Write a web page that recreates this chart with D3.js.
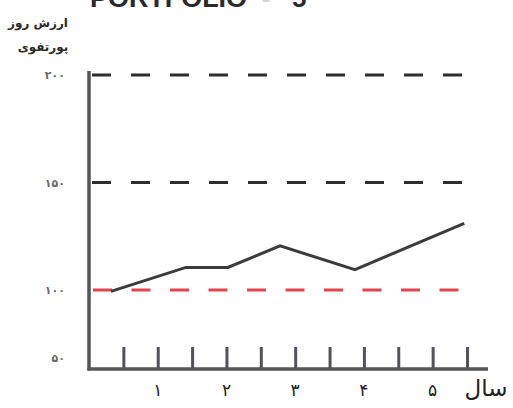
<!DOCTYPE html>
<html>
<head>
<meta charset="utf-8">
<script src="https://cdn.jsdelivr.net/npm/d3@7"></script>
<style>
html,body{margin:0;padding:0;background:#fff;}
svg{display:block;}
</style>
</head>
<body>
<svg id="chart" width="513" height="408"></svg>
<script>
// ---- data ----
const years = [0.32, 1.41, 2.02, 2.78, 3.87, 5.46];
const values = [99, 110.5, 110.5, 120.5, 109.5, 131];
const yTickValues = [50, 100, 150, 200];
const yTickLabels = ["۵۰", "۱۰۰", "۱۵۰", "۲۰۰"];
const xTickValues = [0.5, 1, 1.5, 2, 2.5, 3, 3.5, 4, 4.5, 5, 5.5];
const xLabelValues = [1, 2, 3, 4, 5];
const xLabelTexts = ["۱", "۲", "۳", "۴", "۵"];
const gridValues = [200, 150];
const baseValue = [100];
const yTitleLines = ["ارزش روز", "پورتفوی"];
const xTitle = "سال";
const titleMain = "PORTFOLIO";
const titleDash = "-";
const titleNum = "5";

// ---- layout ----
const svg = d3.select("#chart");
const x = d3.scaleLinear().domain([0, 5.5]).range([89, 467]);
const y = d3.scaleLinear().domain([50, 100, 200]).range([358, 290, 75]);
const axisBottomY = 369;
const axisTopY = 71;
const axisRightX = 488;

// title (cropped at top, as in the reference)
const tf = "Liberation Sans, Arial, sans-serif";
svg.append("text").attr("x", 90).attr("y", 7)
  .attr("font-family", tf).attr("font-weight", "bold")
  .attr("font-size", 26).attr("fill", "#2a2a2e").attr("textLength", 157).attr("lengthAdjust", "spacingAndGlyphs")
  .text(titleMain);
svg.append("text").attr("x", 262).attr("y", 7)
  .attr("font-family", tf).attr("font-weight", "bold")
  .attr("font-size", 26).attr("fill", "#d6d6da")
  .text(titleDash);
svg.append("text").attr("x", 292).attr("y", 7)
  .attr("font-family", tf).attr("font-weight", "bold")
  .attr("font-size", 26).attr("fill", "#2a2a2e")
  .text(titleNum);

// y title
svg.selectAll("text.ytitle").data(yTitleLines).join("text")
  .attr("class", "ytitle")
  .attr("x", (d, i) => i === 0 ? 38 : 43)
  .attr("y", (d, i) => 27 + i * 24)
  .attr("text-anchor", "middle")
  .attr("font-family", "DejaVu Sans, sans-serif")
  .attr("font-weight", "bold")
  .attr("font-size", 12)
  .attr("fill", "#2a2a2a")
  .text(d => d);

// y tick labels via axis
const yAxis = d3.axisLeft(y).tickValues(yTickValues).tickSize(0)
  .tickFormat((d, i) => yTickLabels[i]);
const gy = svg.append("g").attr("transform", "translate(64,0)").call(yAxis);
gy.select(".domain").remove();
gy.selectAll("text")
  .attr("font-family", "DejaVu Sans, sans-serif")
  .attr("font-size", 11)
  .attr("font-weight", "bold")
  .attr("letter-spacing", 4)
  .attr("fill", "#6a6a6a")
  .attr("dx", 4);

// dashed grid lines
svg.selectAll("line.grid").data(gridValues).join("line")
  .attr("class", "grid")
  .attr("x1", 92).attr("x2", 463)
  .attr("y1", d => y(d)).attr("y2", d => y(d))
  .attr("stroke", "#2e2e2e").attr("stroke-width", 3)
  .attr("stroke-dasharray", "19,20");

svg.selectAll("line.base").data(baseValue).join("line")
  .attr("class", "base")
  .attr("x1", 93).attr("x2", 460)
  .attr("y1", d => y(d)).attr("y2", d => y(d))
  .attr("stroke", "#e4444e").attr("stroke-width", 3)
  .attr("stroke-dasharray", "19,19.5");

// series line
const line = d3.line().x((d, i) => x(years[i])).y(d => y(d));
svg.append("path").datum(values)
  .attr("d", line)
  .attr("fill", "none")
  .attr("stroke", "#3c3c3e")
  .attr("stroke-width", 3)
  .attr("stroke-linejoin", "miter");

// x ticks (upward)
const xAxis = d3.axisTop(x).tickValues(xTickValues).tickSize(22).tickFormat("");
const gx = svg.append("g").attr("transform", `translate(0,${axisBottomY})`).call(xAxis);
gx.select(".domain").remove();
gx.selectAll("line").attr("stroke", "#55525c").attr("stroke-width", 3);

// axes lines
svg.append("line").attr("x1", x(0)).attr("x2", x(0))
  .attr("y1", axisTopY).attr("y2", axisBottomY + 1.5)
  .attr("stroke", "#555").attr("stroke-width", 3.5);
svg.append("line").attr("x1", x(0) - 1.5).attr("x2", axisRightX)
  .attr("y1", axisBottomY).attr("y2", axisBottomY)
  .attr("stroke", "#555").attr("stroke-width", 3.5);

// x labels
svg.selectAll("text.xl").data(xLabelValues).join("text")
  .attr("class", "xl")
  .attr("x", d => x(d))
  .attr("y", 396)
  .attr("text-anchor", "middle")
  .attr("font-family", "DejaVu Sans, sans-serif")
  .attr("font-size", 17)
  .attr("fill", "#222")
  .text((d, i) => xLabelTexts[i]);

svg.append("text").attr("x", 486).attr("y", 396)
  .attr("text-anchor", "middle")
  .attr("font-family", "DejaVu Sans, sans-serif")
  .attr("font-size", 23)
  .attr("fill", "#222")
  .text(xTitle);
</script>
</body>
</html>
